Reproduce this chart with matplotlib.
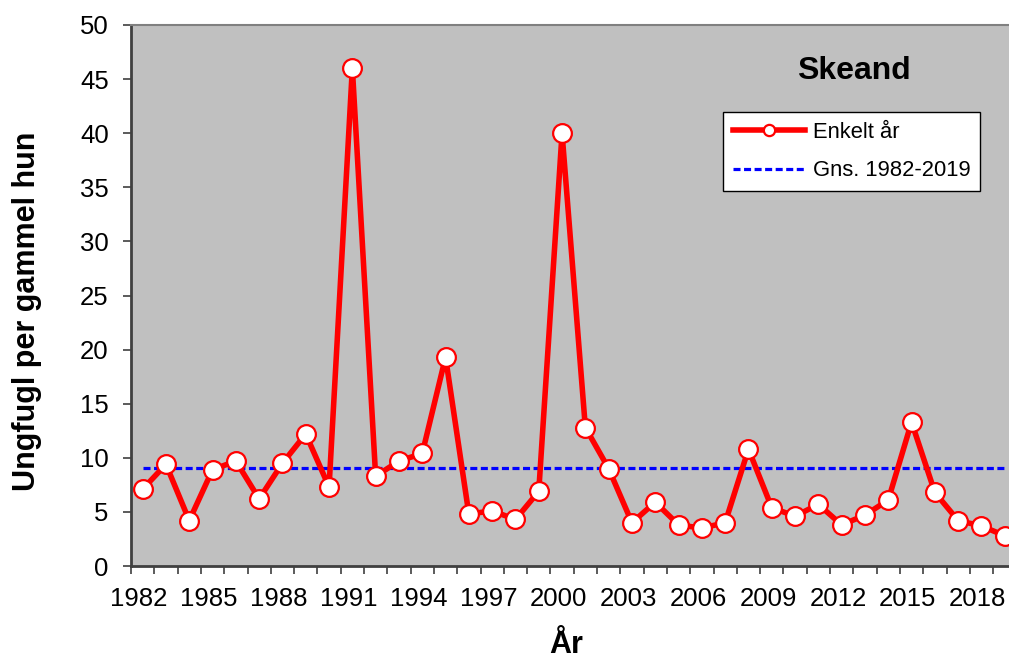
import numpy as np
import matplotlib
matplotlib.use("Agg")
import matplotlib.pyplot as plt

plt.rcParams["font.family"] = ["Liberation Sans", "DejaVu Sans"]

years = list(range(1982, 2020))
values = [7.1, 9.4, 4.2, 8.9, 9.7, 6.2, 9.5, 12.2, 7.3, 46.0,
          8.3, 9.7, 10.4, 19.3, 4.8, 5.1, 4.3, 6.9, 40.0, 12.8,
          9.0, 4.0, 5.9, 3.8, 3.5, 4.0, 10.8, 5.4, 4.6, 5.7,
          3.8, 4.7, 6.1, 13.3, 6.8, 4.2, 3.7, 2.8]
mean_value = 9.1
label_years = list(range(1982, 2020, 3))
title = "Skeand"
series_label = "Enkelt år"
mean_label = "Gns. 1982-2019"
ylabel = "Ungfugl per gammel hun"
xlabel = "År"

W, H = 1009, 659
fig = plt.figure(figsize=(W / 100, H / 100), dpi=100)
ax = fig.add_axes([131 / W, 1 - 566 / H, 1 - 131 / W, (566 - 25) / H])
ax.set_facecolor("#C0C0C0")

ax.plot(years, values, color="red", lw=4, marker="o", ms=13.5,
        mfc="white", mec="red", mew=1.6, zorder=4, clip_on=False,
        label=series_label)
ax.plot([years[0], years[-1]], [mean_value, mean_value], color="blue",
        lw=2.3, ls=(0, (2.2, 1.1)), zorder=3, label=mean_label)

ax.set_yticks(np.arange(0, 51, 5))

# tick marks between categories, labels near the points
ax.set_xticks(np.arange(1981.5, 2019.2, 1.0))
ax.set_xticklabels([])
ax.set_xticks([y - 0.16 for y in label_years], minor=True)
ax.set_xticklabels([str(y) for y in label_years], minor=True)
ax.set_xlim(1981.5, 1981.5 + (W - 131) / 23.3)
ax.set_ylim(0, 50)
ax.tick_params(axis="x", which="major", direction="out", length=6,
               width=1.2, color="#404040")
ax.tick_params(axis="x", which="minor", length=0, pad=15, labelsize=18.5)
ax.tick_params(axis="y", direction="out", length=6, width=1.2,
               color="#404040", pad=10, labelsize=18.5)

for s in ("left", "bottom"):
    ax.spines[s].set_color("#404040")
    ax.spines[s].set_linewidth(2)
ax.spines["top"].set_color("#808080")
ax.spines["top"].set_linewidth(1.5)
ax.spines["right"].set_visible(False)

leg = ax.legend(loc="upper left", bbox_to_anchor=(723 / W, 1 - 112 / H),
                bbox_transform=fig.transFigure, borderaxespad=0,
                fontsize=15.8, handlelength=3.3, handletextpad=0.35,
                labelspacing=0.8, borderpad=0.45, markerscale=0.6,
                fancybox=False, framealpha=1, edgecolor="black")
leg.get_frame().set_linewidth(1)

fig.text(854 / W, 1 - 71 / H, title, fontsize=23, fontweight="bold",
         ha="center", va="center")
fig.text(27 / W, 1 - 311 / H, ylabel, fontsize=22, fontweight="bold",
         rotation=90, ha="center", va="center")
fig.text(566 / W, 1 - 645 / H, xlabel, fontsize=22, fontweight="bold",
         ha="center", va="center")

fig.savefig("out.png", dpi=100)
